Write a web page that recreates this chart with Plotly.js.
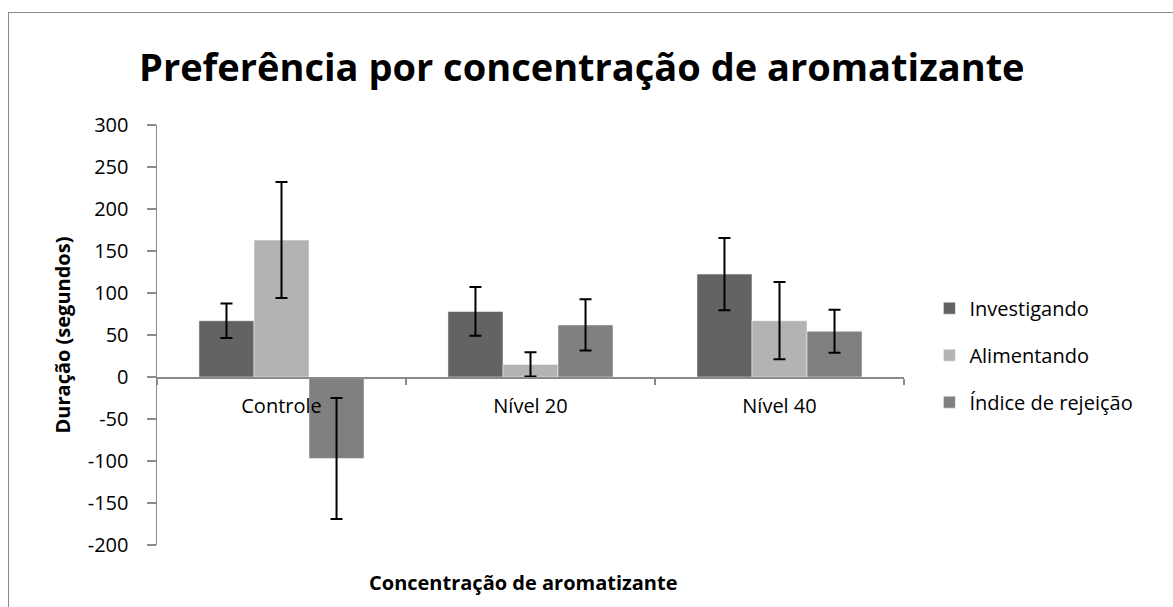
<!DOCTYPE html>
<html>
<head>
<meta charset="utf-8">
<script src="https://cdn.plot.ly/plotly-3.0.1.min.js"></script>
<style>
  html, body { margin: 0; padding: 0; background: #ffffff; }
  #wrap { position: relative; width: 1173px; height: 607px; overflow: hidden; }
  #chart { position: absolute; left: 0; top: 0; width: 1173px; height: 607px; }
  #frame { position: absolute; left: 8px; top: 12px; width: 1200px; height: 640px;
           border-left: 1.5px solid #8a8a8a; border-top: 1.5px solid #8a8a8a; pointer-events: none; }
</style>
</head>
<body>
<div id="wrap">
  <div id="chart"></div>
  <div id="frame"></div>
</div>
<script>
// ---- data ----
const categories = ['Controle', 'Nível 20', 'Nível 40'];
const seriesNames = ['Investigando', 'Alimentando', 'Índice de rejeição'];
const investigando = [67, 78, 122.5];
const investigandoErr = [20.5, 29, 43];
const alimentando = [163, 15, 67];
const alimentandoErr = [69, 14.5, 46];
const indiceRejeicao = [-97, 62, 54.5];
const indiceRejeicaoErr = [72, 30.5, 25.5];
const yTicks = [-200, -150, -100, -50, 0, 50, 100, 150, 200, 250, 300];

const colors = ['#636363', '#b3b3b3', '#808080'];
const values = [investigando, alimentando, indiceRejeicao];
const errs = [investigandoErr, alimentandoErr, indiceRejeicaoErr];
const FONT = 'Open Sans, Calibri, sans-serif';

const traces = seriesNames.map((name, i) => ({
  type: 'bar',
  name: name,
  legendgroup: 'g' + i,
  x: categories,
  y: values[i],
  marker: { color: colors[i], line: { color: '#ffffff', width: 0.5 } },
  error_y: { type: 'data', array: errs[i], visible: true, color: '#000000', thickness: 2, width: 6 }
}));

const layout = {
  width: 1173, height: 607,
  paper_bgcolor: 'rgba(0,0,0,0)', plot_bgcolor: 'rgba(0,0,0,0)',
  margin: { l: 157, r: 269, t: 125, b: 62 },
  font: { family: FONT, color: '#000000', size: 20 },
  title: {
    text: '<b>Preferência por concentração de aromatizante</b>',
    font: { family: FONT, size: 38, color: '#000000' },
    x: 0.496, xanchor: 'center', xref: 'container',
    y: 0.888, yanchor: 'middle', yref: 'container'
  },
  barmode: 'group',
  bargap: 0.337,
  bargroupgap: 0,
  showlegend: true,
  legend: {
    x: 1.034, xanchor: 'left', y: 0.452, yanchor: 'middle',
    font: { family: FONT, size: 20, color: '#000000' },
    tracegroupgap: 18, bgcolor: 'rgba(0,0,0,0)'
  },
  xaxis: {
    type: 'category',
    anchor: 'free', position: 0.4,
    showline: true, linecolor: '#8a8a8a', linewidth: 1.5,
    ticks: 'outside', tickson: 'boundaries', ticklen: 6, tickcolor: '#8a8a8a', tickwidth: 1.5,
    showgrid: false, zeroline: false,
    tickfont: { family: FONT, size: 20, color: '#000000' },
    ticklabelstandoff: 10
  },
  yaxis: {
    range: [-200, 300],
    tickmode: 'array', tickvals: yTicks, ticktext: yTicks.map(String),
    showline: true, linecolor: '#8a8a8a', linewidth: 1.5,
    ticks: 'outside', ticklen: 9, tickcolor: '#8a8a8a', tickwidth: 1.5,
    showgrid: false, zeroline: false,
    tickfont: { family: FONT, size: 20, color: '#000000' },
    ticklabelstandoff: 14,
    title: { text: '<b>Duração (segundos)</b>', font: { family: FONT, size: 20, color: '#000000' }, standoff: 12 }
  },
  annotations: [{
    text: '<b>Concentração de aromatizante</b>',
    xref: 'paper', yref: 'paper', x: 0.49, y: -0.09, xanchor: 'center', yanchor: 'middle',
    showarrow: false, font: { family: FONT, size: 20, color: '#000000' }
  }]
};

Plotly.newPlot('chart', traces, layout, { displayModeBar: false, staticPlot: true });
</script>
</body>
</html>
